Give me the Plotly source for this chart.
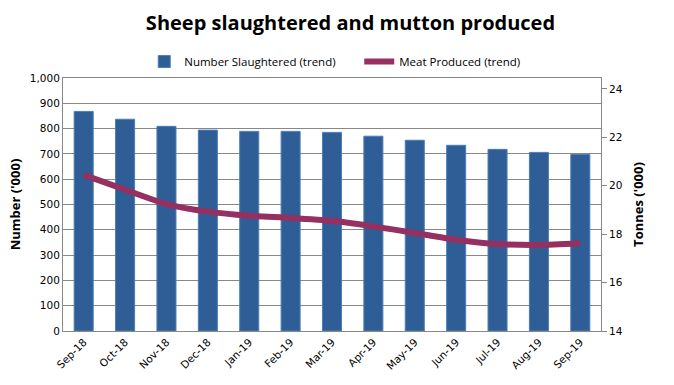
import plotly.graph_objects as go

months = ["Sep-18", "Oct-18", "Nov-18", "Dec-18", "Jan-19", "Feb-19", "Mar-19",
          "Apr-19", "May-19", "Jun-19", "Jul-19", "Aug-19", "Sep-19"]
number_slaughtered = [868, 837, 809, 794, 789, 789, 785, 770, 754, 734, 718, 706, 698]
meat_produced = [20.45, 19.84, 19.24, 18.93, 18.76, 18.67, 18.55, 18.32, 18.05, 17.77, 17.59, 17.55, 17.62]

left_ticks = list(range(0, 1001, 100))
left_labels = [f"{v:,}" for v in left_ticks]

fig = go.Figure()
fig.add_trace(go.Bar(
    x=months, y=number_slaughtered, name="Number Slaughtered (trend)",
    marker=dict(color="#2E5E95", line=dict(color="#4A7EBB", width=1)),
    yaxis="y",
))
fig.add_trace(go.Scatter(
    x=months, y=meat_produced, name="Meat Produced (trend)", mode="lines",
    line=dict(color="#953060", width=6, shape="spline", smoothing=0.6),
    yaxis="y2",
))

axis_font = dict(family="DejaVu Sans", size=10.5, color="#000")
fig.update_layout(
    width=674, height=385,
    margin=dict(l=63, r=73, t=78, b=54, autoexpand=False),
    paper_bgcolor="white", plot_bgcolor="white",
    title=dict(text="<b>Sheep slaughtered and mutton produced</b>", x=0.52, xanchor="center",
               y=0.94, yanchor="middle",
               font=dict(family="Open Sans", size=20, color="#000")),
    showlegend=True,
    legend=dict(orientation="h", x=0.151, xanchor="left", y=1.065, yanchor="middle",
                font=dict(family="Open Sans", size=11.5, color="#000"),
                itemwidth=30, traceorder="normal",
                entrywidth=170, entrywidthmode="pixels"),
    bargap=0.54,
    xaxis=dict(tickangle=-45, tickfont=axis_font, showline=True, linecolor="#888",
               mirror=True, ticks="", showgrid=False, automargin=False),
    yaxis=dict(range=[0, 1000], tickvals=left_ticks, ticktext=left_labels,
               tickfont=axis_font, showgrid=True, gridcolor="#888", gridwidth=1,
               showline=True, linecolor="#888", mirror=True, zeroline=False, automargin=False,
               title=dict(text="<b>Number ('000)</b>", font=dict(family="Open Sans", size=13, color="#000"),
                          standoff=6)),
    yaxis2=dict(range=[14, 24.45], dtick=2, tick0=14, overlaying="y", side="right",
                tickfont=axis_font, showgrid=False, zeroline=False, automargin=False,
                ticks="outside", ticklen=5, tickcolor="#888",
                showline=True, linecolor="#888",
                title=dict(text="<b>Tonnes ('000)</b>", font=dict(family="Open Sans", size=13, color="#000"),
                           standoff=12)),
)

fig.write_html("out.html", config={"displayModeBar": False},
               post_script="document.body.style.margin='0';")
